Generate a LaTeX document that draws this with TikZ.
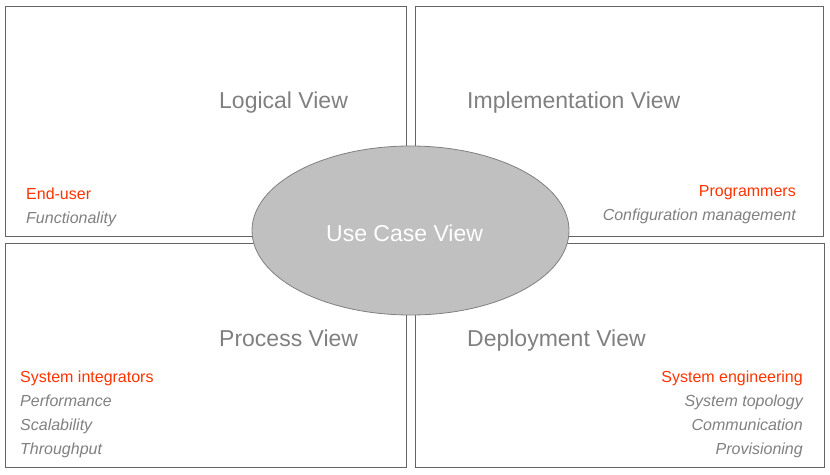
\documentclass[tikz,border=0pt]{standalone}
\usepackage{fontspec}
\setmainfont{Liberation Sans}
\usetikzlibrary{shapes.geometric,positioning}
\definecolor{viewgray}{RGB}{128,128,128}
\definecolor{actorred}{RGB}{255,51,0}
\definecolor{framegray}{RGB}{100,100,100}
\definecolor{ovalgray}{RGB}{192,192,192}
\def\titlefont{\fontsize{23}{27}\selectfont}
\def\notefont{\fontsize{16}{19}\selectfont}

\begin{document}
\begin{tikzpicture}[x=1pt,y=-1pt]
	\tikzstyle{view box}=[draw=framegray,line width=1.3pt,inner sep=0pt,anchor=north west]
	\tikzstyle{view title}=[text=viewgray,font=\titlefont,inner sep=0pt]
	\tikzstyle{actor}=[text=actorred,font=\notefont,inner sep=0pt]
	\tikzstyle{concern}=[text=viewgray,font=\notefont\itshape,inner sep=0pt]
	\tikzstyle{use case}=[ellipse,draw=viewgray,line width=0.8pt,fill=ovalgray,minimum width=317pt,minimum height=169pt]

	\useasboundingbox (0,0) rectangle (830,474);

	% Draw the four view boxes
	\foreach \name / \x / \y / \w / \h in {logical/5/6/401/230,impl/415/6/408/230,process/5/243/401/224,deploy/415/243/409/224}
	\node[view box,minimum width=\w pt,minimum height=\h pt] (B-\name) at (\x,\y) {};

	% Draw the use case view in the middle
	\node[use case] (UC) at (410.5,230.5) {};
	\node[view title,text=white,anchor=base west] (UC-title) at (326,241) {Use Case View};

	% View titles
	\foreach \name / \x / \y / \txt in {logical/219/108/Logical View,impl/467/108/Implementation View,process/219/346/Process View,deploy/467/346/Deployment View}
	\node[view title,anchor=base west] (T-\name) at (\x,\y) {\txt};

	% Stakeholders and concerns on the left side
	\node[actor,anchor=base west] (A-logical) at (26,199) {End-user};
	\node[concern,anchor=base west] (C-logical) at (26,223) {Functionality};
	\node[actor,anchor=base west] (A-process) at (20,382) {System integrators};
	\foreach \i / \txt in {1/Performance,2/Scalability,3/Throughput}
	\node[concern,anchor=base west] (C-process-\i) at (20,382+24*\i) {\txt};

	% Stakeholders and concerns on the right side
	\node[actor,anchor=base east] (A-impl) at (796,196) {Programmers};
	\node[concern,anchor=base east] (C-impl) at (796,220) {Configuration management};
	\node[actor,anchor=base east] (A-deploy) at (803,382) {System engineering};
	\foreach \i / \txt in {1/System topology,2/Communication,3/Provisioning}
	\node[concern,anchor=base east] (C-deploy-\i) at (803,382+24*\i) {\txt};
\end{tikzpicture}
\end{document}
